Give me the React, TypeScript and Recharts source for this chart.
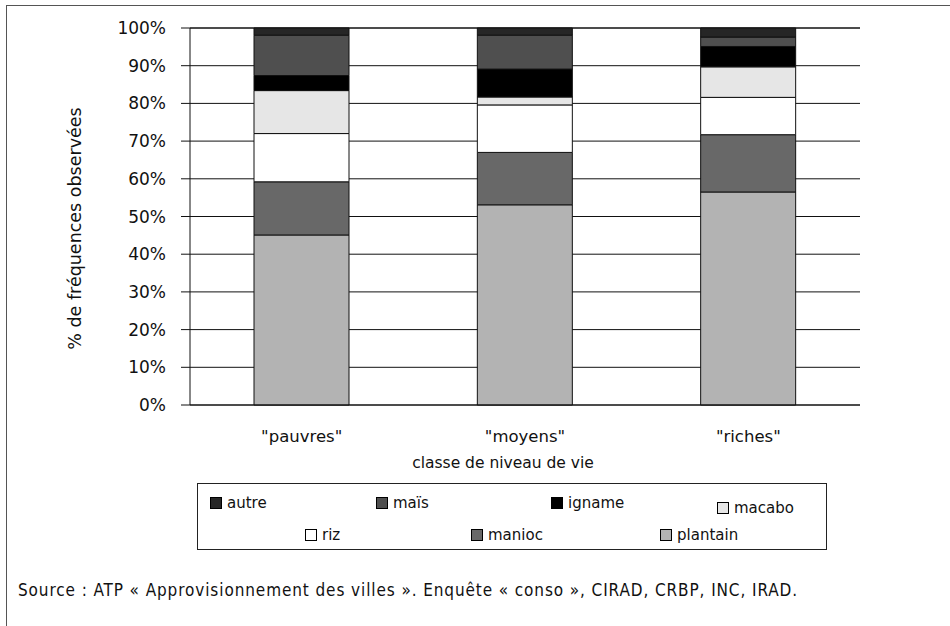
import { Bar, BarChart, CartesianGrid, XAxis, YAxis } from "recharts";

const categories = ['"pauvres"', '"moyens"', '"riches"'];

// stacked from the bottom up
const plantain = [45.1, 53.1, 56.5];
const manioc = [14.1, 13.9, 15.2];
const riz = [12.8, 12.6, 9.9];
const macabo = [11.4, 2.1, 8.1];
const igname = [4.0, 7.4, 5.4];
const mais = [10.7, 9.0, 2.5];
const autre = [1.9, 1.9, 2.4];

const yTicks = [0, 10, 20, 30, 40, 50, 60, 70, 80, 90, 100];

const series = [
  { key: "plantain", label: "plantain", values: plantain, color: "#b3b3b3" },
  { key: "manioc", label: "manioc", values: manioc, color: "#686868" },
  { key: "riz", label: "riz", values: riz, color: "#ffffff" },
  { key: "macabo", label: "macabo", values: macabo, color: "#e6e6e6" },
  { key: "igname", label: "igname", values: igname, color: "#000000" },
  { key: "mais", label: "maïs", values: mais, color: "#4f4f4f" },
  { key: "autre", label: "autre", values: autre, color: "#262626" },
];

const data = categories.map((name, i) => {
  const row: Record<string, string | number> = { name };
  series.forEach((s) => {
    row[s.key] = s.values[i];
  });
  return row;
});

const FONT = "'DejaVu Sans', sans-serif";

// legend rows as laid out in the original (top row, then bottom row)
const legendRows = [
  [
    { key: "autre", left: 12 },
    { key: "mais", left: 178 },
    { key: "igname", left: 353 },
    { key: "macabo", left: 519, top: 5 },
  ],
  [
    { key: "riz", left: 107 },
    { key: "manioc", left: 273 },
    { key: "plantain", left: 462 },
  ],
];

function LegendBox() {
  return (
    <div
      style={{
        position: "absolute",
        left: 197,
        top: 483,
        width: 628,
        height: 65,
        border: "1.5px solid #222",
        fontFamily: FONT,
        fontSize: 15,
        color: "#111",
      }}
    >
      {legendRows.map((row, r) =>
        row.map((item) => {
          const s = series.find((x) => x.key === item.key)!;
          return (
            <div
              key={s.key}
              style={{
                position: "absolute",
                left: item.left,
                top: 10 + r * 32 + (item.top ?? 0),
                display: "flex",
                alignItems: "center",
                lineHeight: "18px",
              }}
            >
              <span
                style={{
                  display: "inline-block",
                  width: 10,
                  height: 10,
                  background: s.color,
                  border: "1px solid #000",
                  marginRight: 5,
                }}
              />
              {s.label}
            </div>
          );
        })
      )}
    </div>
  );
}

export default function App() {
  return (
    <div
      style={{
        position: "absolute",
        left: 0,
        top: 0,
        width: 950,
        height: 626,
        overflow: "hidden",
        background: "#fff",
      }}
    >
      <div
        style={{
          position: "absolute",
          left: 6,
          top: 5,
          width: 1000,
          height: 700,
          borderTop: "1.5px solid #555",
          borderLeft: "1.5px solid #555",
        }}
      />
      <div style={{ position: "absolute", left: 0, top: 0 }}>
        <BarChart
          width={950}
          height={626}
          data={data}
          margin={{ top: 28, right: 90, left: 0, bottom: 151 }}
        >
          <CartesianGrid vertical={false} stroke="#111" strokeOpacity={1} />
          <XAxis
            dataKey="name"
            height={70}
            tickLine={false}
            axisLine={{ stroke: "#111" }}
            tickMargin={19}
            tick={{ fill: "#111", fontSize: 16.5, fontFamily: FONT }}
            label={({ viewBox }: any) => (
              <text
                x={viewBox.x + viewBox.width / 2 - 22}
                y={viewBox.y + 63}
                textAnchor="middle"
                fill="#111"
                fontSize={15.5}
                fontFamily={FONT}
              >
                classe de niveau de vie
              </text>
            )}
          />
          <YAxis
            width={190}
            domain={[0, 100]}
            ticks={yTicks}
            interval={0}
            tickFormatter={(v: number) => `${v}%`}
            tickSize={9}
            tickMargin={15}
            tickLine={{ stroke: "#111" }}
            axisLine={{ stroke: "#111" }}
            tick={{ fill: "#111", fontSize: 17, fontFamily: FONT }}
            label={({ viewBox }: any) => (
              <text
                x={75}
                y={viewBox.y + viewBox.height / 2 + 12}
                transform={`rotate(-90 75 ${viewBox.y + viewBox.height / 2 + 12})`}
                textAnchor="middle"
                dominantBaseline="central"
                fill="#111"
                fontSize={17.5}
                fontFamily={FONT}
              >
                % de fréquences observées
              </text>
            )}
          />
          <YAxis
            yAxisId="frame"
            orientation="right"
            width={0}
            domain={[0, 100]}
            tick={false}
            tickLine={false}
            axisLine={{ stroke: "#111" }}
          />
          {series.map((s) => (
            <Bar
              key={s.key}
              dataKey={s.key}
              stackId="a"
              fill={s.color}
              stroke="#111"
              strokeWidth={1}
              barSize={95}
              isAnimationActive={false}
            />
          ))}
        </BarChart>
      </div>
      <LegendBox />
      <div
        style={{
          position: "absolute",
          left: 18,
          top: 580,
          fontFamily: "'DejaVu Sans Condensed', 'DejaVu Sans', sans-serif",
          fontStretch: "condensed",
          fontSize: 17,
          letterSpacing: 0.9,
          color: "#111",
          whiteSpace: "nowrap",
        }}
      >
        Source : ATP « Approvisionnement des villes ». Enquête « conso », CIRAD, CRBP, INC, IRAD.
      </div>
    </div>
  );
}
